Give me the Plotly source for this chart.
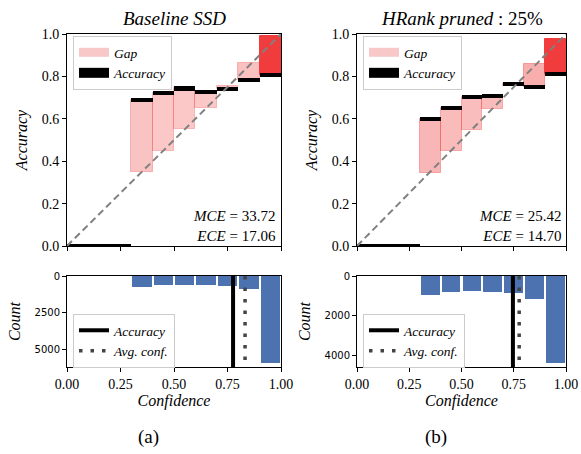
import plotly.graph_objects as go

# ---------------- data ----------------
bin_centers = [0.05, 0.15, 0.25, 0.35, 0.45, 0.55, 0.65, 0.75, 0.85, 0.95]
bin_size = 0.1

acc_a = [0.0, 0.0, 0.0, 0.688, 0.724, 0.743, 0.727, 0.741, 0.781, 0.808]
conf_a = [0.0, 0.0, 0.0, 0.347, 0.448, 0.550, 0.651, 0.755, 0.862, 0.992]
count_a = [0, 0, 0, 770, 630, 630, 630, 680, 860, 5870]
avg_acc_a = 0.776
avg_conf_a = 0.832
mce_a = "33.72"
ece_a = "17.06"

acc_b = [0.0, 0.0, 0.0, 0.598, 0.651, 0.703, 0.709, 0.766, 0.748, 0.811]
conf_b = [0.0, 0.0, 0.0, 0.343, 0.448, 0.547, 0.648, 0.753, 0.860, 0.976]
count_b = [0, 0, 0, 944, 808, 741, 808, 842, 1178, 4370]
avg_acc_b = 0.746
avg_conf_b = 0.776
mce_b = "25.42"
ece_b = "14.70"

titles = ["<i>Baseline SSD</i>", "<i>HRank pruned</i> : 25%"]
captions = ["(a)", "(b)"]
top_ticks = [0.0, 0.2, 0.4, 0.6, 0.8, 1.0]
x_ticks = [0.0, 0.25, 0.5, 0.75, 1.0]
count_dtick = [2500, 2000]
diag = [0.0, 1.0]

SERIF = "Liberation Serif"
SANS = "DejaVu Sans"
BLUE = "#4c72b0"

fig = go.Figure()

panels = [
    (acc_a, conf_a, count_a, avg_acc_a, avg_conf_a, mce_a, ece_a),
    (acc_b, conf_b, count_b, avg_acc_b, avg_conf_b, mce_b, ece_b),
]

acc_thick = 0.019
for p, (acc, conf, cnt, aacc, aconf, mce, ece) in enumerate(panels):
    xt = "x" if p == 0 else "x3"
    yt = "y" if p == 0 else "y3"
    xb = "x2" if p == 0 else "x4"
    yb = "y2" if p == 0 else "y4"
    leg_top = "legend" if p == 0 else "legend3"
    leg_bot = "legend2" if p == 0 else "legend4"
    mx = max(cnt)
    alphas = [0.2 + 0.8 * c / mx for c in cnt]
    fill = [f"rgba(240,60,60,{a:.3f})" for a in alphas]

    # gap bars
    fig.add_trace(go.Bar(
        x=bin_centers, y=[abs(a - c) for a, c in zip(acc, conf)],
        base=[min(a, c) for a, c in zip(acc, conf)], width=bin_size,
        marker=dict(color=fill, line=dict(color=fill, width=1)),
        xaxis=xt, yaxis=yt, showlegend=False, hoverinfo="skip"))
    # accuracy bars (thick black line at accuracy level)
    fig.add_trace(go.Bar(
        x=bin_centers, y=[acc_thick] * len(acc),
        base=[a - acc_thick / 2 for a in acc], width=bin_size,
        marker=dict(color="black", line=dict(width=0)),
        xaxis=xt, yaxis=yt, showlegend=False, hoverinfo="skip"))
    # diagonal
    fig.add_trace(go.Scatter(
        x=diag, y=diag, mode="lines",
        line=dict(color="gray", width=2, dash="7px,4px"),
        xaxis=xt, yaxis=yt, showlegend=False, hoverinfo="skip"))
    # legend entries for top
    fig.add_trace(go.Scatter(
        x=[None], y=[None], mode="lines", name="<i>Gap</i>",
        line=dict(color="rgba(248,200,200,1)", width=9),
        xaxis=xt, yaxis=yt, legend=leg_top))
    fig.add_trace(go.Scatter(
        x=[None], y=[None], mode="lines", name="<i>Accuracy</i>",
        line=dict(color="black", width=10),
        xaxis=xt, yaxis=yt, legend=leg_top))

    # histogram
    fig.add_trace(go.Bar(
        x=bin_centers, y=cnt, width=bin_size * 0.9,
        marker=dict(color=BLUE, line=dict(width=0)),
        xaxis=xb, yaxis=yb, showlegend=False, hoverinfo="skip"))
    ymax = mx * 1.05
    fig.add_trace(go.Scatter(
        x=[aacc, aacc], y=[0, ymax], mode="lines", name="<i>Accuracy</i>",
        line=dict(color="black", width=4),
        xaxis=xb, yaxis=yb, legend=leg_bot))
    fig.add_trace(go.Scatter(
        x=[aconf, aconf], y=[0, ymax], mode="lines", name="<i>Avg. conf.</i>",
        line=dict(color="#444444", width=3.5, dash="3.5px,8px"),
        xaxis=xb, yaxis=yb, legend=leg_bot))

# ---------------- layout ----------------
W, H = 581, 454
xdom = [[67 / W, 281 / W], [357 / W, 566 / W]]
ydom_top = [1 - 246 / H, 1 - 34 / H]
ydom_bot = [1 - 367 / H, 1 - 276 / H]

axis_common = dict(showline=True, linecolor="black", linewidth=1, mirror=True,
                   ticks="outside", ticklen=4, tickwidth=1, tickcolor="black",
                   showgrid=False, zeroline=False, automargin=False,
                   ticklabeloverflow="allow")

layout = dict(
    width=W, height=H, margin=dict(l=0, r=0, t=0, b=0, pad=0), autosize=False,
    paper_bgcolor="white", plot_bgcolor="white",
    barmode="overlay", bargap=0,
    font=dict(family=SERIF, size=14, color="black"),
)

for p in range(2):
    xt = "xaxis" if p == 0 else "xaxis3"
    yt = "yaxis" if p == 0 else "yaxis3"
    xb = "xaxis2" if p == 0 else "xaxis4"
    yb = "yaxis2" if p == 0 else "yaxis4"
    xt_id = "x" if p == 0 else "x3"
    yt_id = "y" if p == 0 else "y3"
    xb_id = "x2" if p == 0 else "x4"
    yb_id = "y2" if p == 0 else "y4"
    cnt = panels[p][2]
    layout[xt] = dict(axis_common, domain=xdom[p], range=[0, 1], tickvals=x_ticks,
                      showticklabels=False, anchor=yt_id)
    layout[yt] = dict(axis_common, domain=ydom_top, range=[0, 1], tickvals=top_ticks,
                      tickformat=".1f", anchor=xt_id,
                      tickfont=dict(family=SERIF, size=14),
                      title=dict(text="<i>Accuracy</i>", standoff=10,
                                 font=dict(family=SERIF, size=16)))
    layout[xb] = dict(axis_common, domain=xdom[p], range=[0, 1], tickvals=x_ticks,
                      tickformat=".2f", anchor=yb_id,
                      tickfont=dict(family=SERIF, size=14),
                      title=dict(text="<i>Confidence</i>", standoff=4,
                                 font=dict(family=SERIF, size=16)))
    layout[yb] = dict(axis_common, domain=ydom_bot, range=[max(cnt) * 1.05, 0],
                      dtick=count_dtick[p], tick0=0, anchor=xb_id,
                      tickfont=dict(family=SANS, size=10),
                      title=dict(text="<i>Count</i>", standoff=9,
                                 font=dict(family=SERIF, size=16)))

leg_common = dict(xanchor="left", yanchor="top", bgcolor="rgba(255,255,255,0.8)",
                  bordercolor="#cccccc", borderwidth=1,
                  font=dict(family=SERIF, size=13.5), tracegroupgap=0,
                  itemwidth=30)
layout["legend"] = dict(leg_common, x=73 / W, y=1 - 36 / H)
layout["legend3"] = dict(leg_common, x=363 / W, y=1 - 36 / H)
layout["legend2"] = dict(leg_common, x=73 / W, y=1 - 314 / H)
layout["legend4"] = dict(leg_common, x=363 / W, y=1 - 314 / H)

annotations = []
for p in range(2):
    xref = "x domain" if p == 0 else "x3 domain"
    yref = "y domain" if p == 0 else "y3 domain"
    mce, ece = panels[p][5], panels[p][6]
    annotations.append(dict(text=f"<i>MCE</i> = {mce}<br><i>ECE</i> = {ece}",
                            xref=xref, yref=yref, align="right",
                            x=0.985, y=0.0, xanchor="right", yanchor="bottom",
                            showarrow=False, font=dict(family=SERIF, size=15)))
    annotations.append(dict(text=titles[p], xref=xref, yref="paper",
                            x=0.5, y=1 - 19 / H, xanchor="center", yanchor="middle",
                            showarrow=False, font=dict(family=SERIF, size=19)))
    annotations.append(dict(text=captions[p], xref="paper", yref="paper",
                            x=(148 if p == 0 else 436) / W, y=1 - 437 / H,
                            xanchor="center", yanchor="middle",
                            showarrow=False, font=dict(family=SERIF, size=19)))
layout["annotations"] = annotations

fig.update_layout(**layout)
fig.write_html("out.html")
